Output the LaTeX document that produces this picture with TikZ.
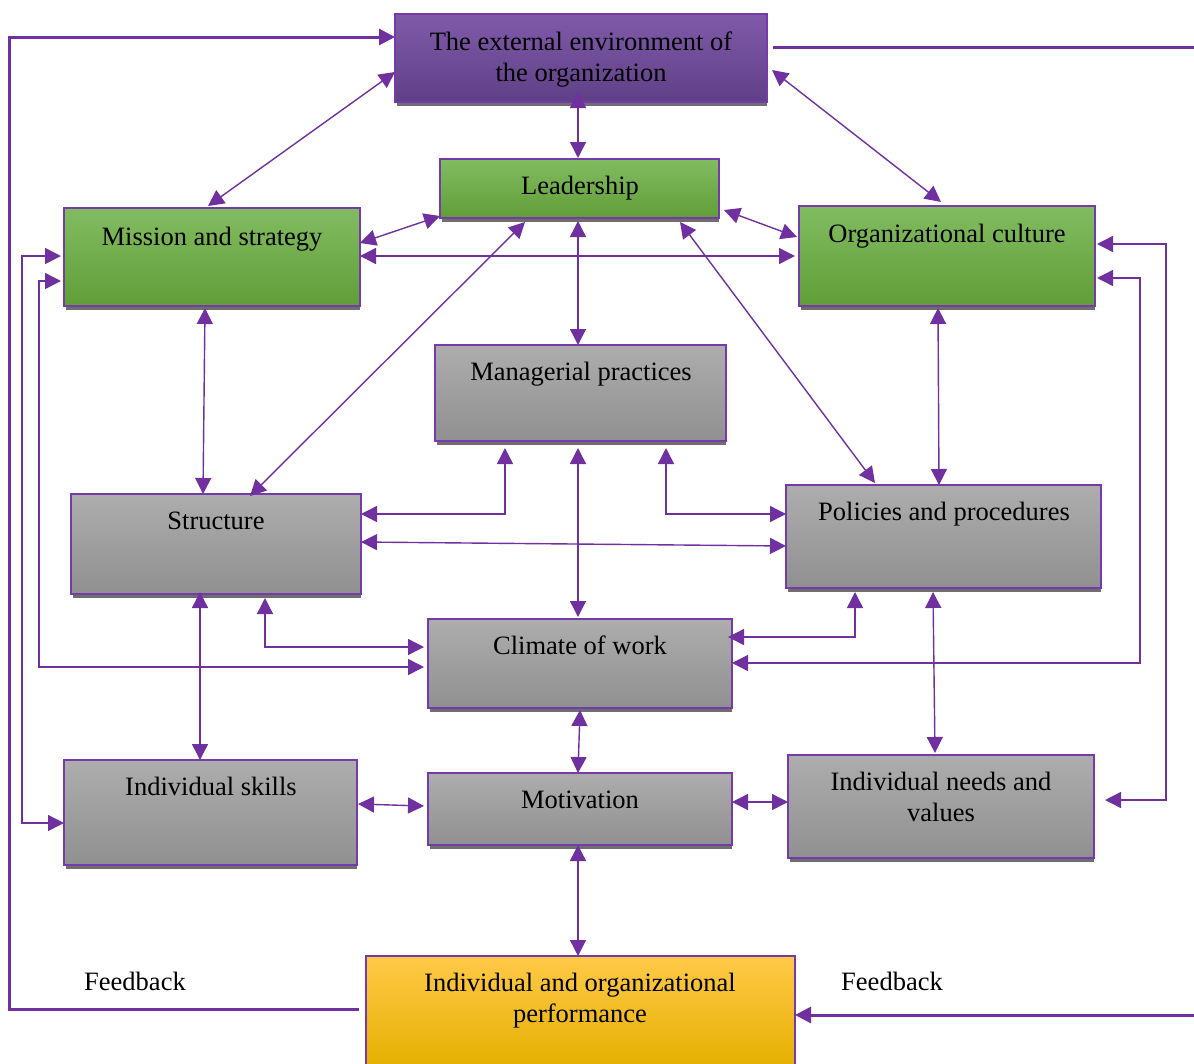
\documentclass[tikz,border=0pt]{standalone}
\usepackage{fontspec}
\setmainfont{Liberation Serif}
\usetikzlibrary{arrows.meta,calc,fit}
\definecolor{pur}{RGB}{112,48,160}
\definecolor{bord}{RGB}{118,58,170}
\definecolor{grT}{RGB}{173,173,173}
\definecolor{grB}{RGB}{144,144,144}
\definecolor{gnT}{RGB}{130,188,98}
\definecolor{gnM}{RGB}{112,174,68}
\definecolor{gnB}{RGB}{97,157,55}
\definecolor{puT}{RGB}{128,90,170}
\definecolor{puB}{RGB}{95,64,134}
\definecolor{yeT}{RGB}{255,201,72}
\definecolor{yeM}{RGB}{255,193,0}
\definecolor{yeB}{RGB}{229,176,0}
\definecolor{shad}{RGB}{110,110,110}
\tikzset{
  box/.style={draw=bord, line width=2pt, rectangle, inner sep=0pt, outer sep=0pt},
  graybox/.style={box, top color=grT, bottom color=grB},
  greenbox/.style={box, top color=gnT, middle color=gnM, bottom color=gnB},
  purbox/.style={box, top color=puT, bottom color=puB},
  yelbox/.style={box, top color=yeT, middle color=yeM, bottom color=yeB},
  txt/.style={font=\fontsize{26.5}{31}\selectfont, inner sep=0pt, align=center, anchor=base},
  con/.style={<->, draw=pur, line width=1.4pt},
  fb/.style={draw=pur, line width=3pt},
  >={Triangle[length=16pt,width=16pt]}
}
\newcommand\bx[6]{%
  \fill[shad] (#2+2,#5) rectangle (#4,#5+4);
  \node[#6, fit={(#2,#3)(#4,#5)}] (#1) {};
}
\begin{document}
\begin{tikzpicture}[x=1pt,y=-1pt]
\useasboundingbox (0,0) rectangle (1194,1063);
\clip (0,0) rectangle (1194,1063);
% boxes
\bx{env}{395}{14}{767}{102}{purbox}
\bx{lead}{440}{159}{719}{218}{greenbox}
\bx{mis}{64}{208}{360}{306}{greenbox}
\bx{cul}{799}{206}{1095}{306}{greenbox}
\bx{man}{435}{345}{726}{441}{graybox}
\bx{str}{71}{494}{361}{594}{graybox}
\bx{pol}{786}{485}{1101}{588}{graybox}
\bx{cli}{428}{619}{732}{708}{graybox}
\bx{ski}{64}{760}{357}{865}{graybox}
\bx{mot}{428}{773}{732}{845}{graybox}
\bx{nee}{788}{755}{1094}{858}{graybox}
\bx{per}{366}{956}{795}{1068}{yelbox}
% texts (base = last line)
\node[txt] (envt) at (581,81) {The external environment of\\the organization};
\node[txt] (leadt) at (580,194) {Leadership};
\node[txt] (mist) at (212,245) {Mission and strategy};
\node[txt] (cult) at (947,242) {Organizational culture};
\node[txt] (mant) at (581,380) {Managerial practices};
\node[txt] (strt) at (216,529) {Structure};
\node[txt] (polt) at (944,520) {Policies and procedures};
\node[txt] (clit) at (580,654) {Climate of work};
\node[txt] (skit) at (211,795) {Individual skills};
\node[txt] (mott) at (580,808) {Motivation};
\node[txt] (neet) at (941,821) {Individual needs and\\values};
\node[txt] (pert) at (580,1022) {Individual and organizational\\performance};
\node[txt] (fb1) at (135,990) {Feedback};
\node[txt] (fb2) at (892,990) {Feedback};
% connectors
\draw[con] ($(env.north west)+(0,58)$) -- ($(mis.north west)+(144,-2)$);
\draw[con] ($(env.north east)+(5,56)$) -- ($(cul.north west)+(142,-4)$);
\draw[con] ($(env.north west)+(183,78)$) -- ($(lead.north west)+(138,-1)$);
\draw[con] ($(lead.north west)+(0,57)$) -- ($(mis.north east)+(0,35)$);
\draw[con] ($(lead.north east)+(5,51)$) -- ($(cul.north west)+(-2,31)$);
\draw[con] ($(mis.north east)+(0,48)$) -- ($(cul.north west)+(-4,50)$);
\draw[con] ($(lead.north west)+(138,62)$) -- ($(man.north west)+(143,0)$);
\draw[con] ($(lead.north west)+(85,63)$) -- ($(str.north west)+(179,2)$);
\draw[con] ($(lead.north west)+(240,63)$) -- ($(pol.north west)+(89,-2)$);
\draw[con] ($(mis.north west)+(141,100)$) -- ($(str.north west)+(132,0)$);
\draw[con] ($(cul.north west)+(139,102)$) -- ($(pol.north west)+(153,0)$);
\draw[con] ($(man.north west)+(70,103)$) |- ($(str.north west)+(290,20)$);
\draw[con] ($(man.north west)+(231,103)$) |- ($(pol.north west)+(0,29)$);
\draw[con] ($(str.north west)+(290,48)$) -- ($(pol.north west)+(0,61)$);
\draw[con] ($(man.north west)+(143,103)$) -- ($(cli.north west)+(150,-2)$);
\draw[con] ($(str.north west)+(194,104)$) |- ($(cli.north west)+(-4,28)$);
\draw[con] ($(mis.north west)+(-3,73)$) -- ++(-22,0) |- ($(cli.north west)+(-4,48)$);
\draw[con] ($(mis.north west)+(-3,48)$) -- ++(-39,0) |- ($(ski.north west)+(0,63)$);
\draw[con] ($(pol.north west)+(69,107)$) |- ($(cli.north east)+(-4,18)$);
\draw[con] ($(cul.north east)+(2,72)$) -- ++(43,0) |- ($(cli.north east)+(0,44)$);
\draw[con] ($(cul.north east)+(2,38)$) -- ++(69,0) |- ($(nee.north east)+(11,45)$);
\draw[con] ($(pol.north west)+(147,107)$) -- ($(nee.north west)+(147,-2)$);
\draw[con] ($(str.north west)+(129,98)$) -- ($(ski.north west)+(136,0)$);
\draw[con] ($(ski.north east)+(1,44)$) -- ($(mot.north west)+(-4,33)$);
\draw[con] ($(mot.north east)+(0,29)$) -- ($(nee.north west)+(0,47)$);
\draw[con] ($(cli.north west)+(152,91)$) -- ($(mot.north west)+(150,0)$);
\draw[con] ($(mot.north west)+(150,72)$) -- ($(per.north west)+(212,0)$);
% feedback
\draw[fb,->] ($(per.north west)+(-7,53)$) -- ++(-350,0) |- ($(env.north west)+(0,23)$);
\draw[fb] ($(env.north east)+(6,33)$) -- ++(421,0);
\draw[fb,->] ($(per.north east)+(399,59)$) -- ($(per.north east)+(0,59)$);
\end{tikzpicture}
\end{document}
